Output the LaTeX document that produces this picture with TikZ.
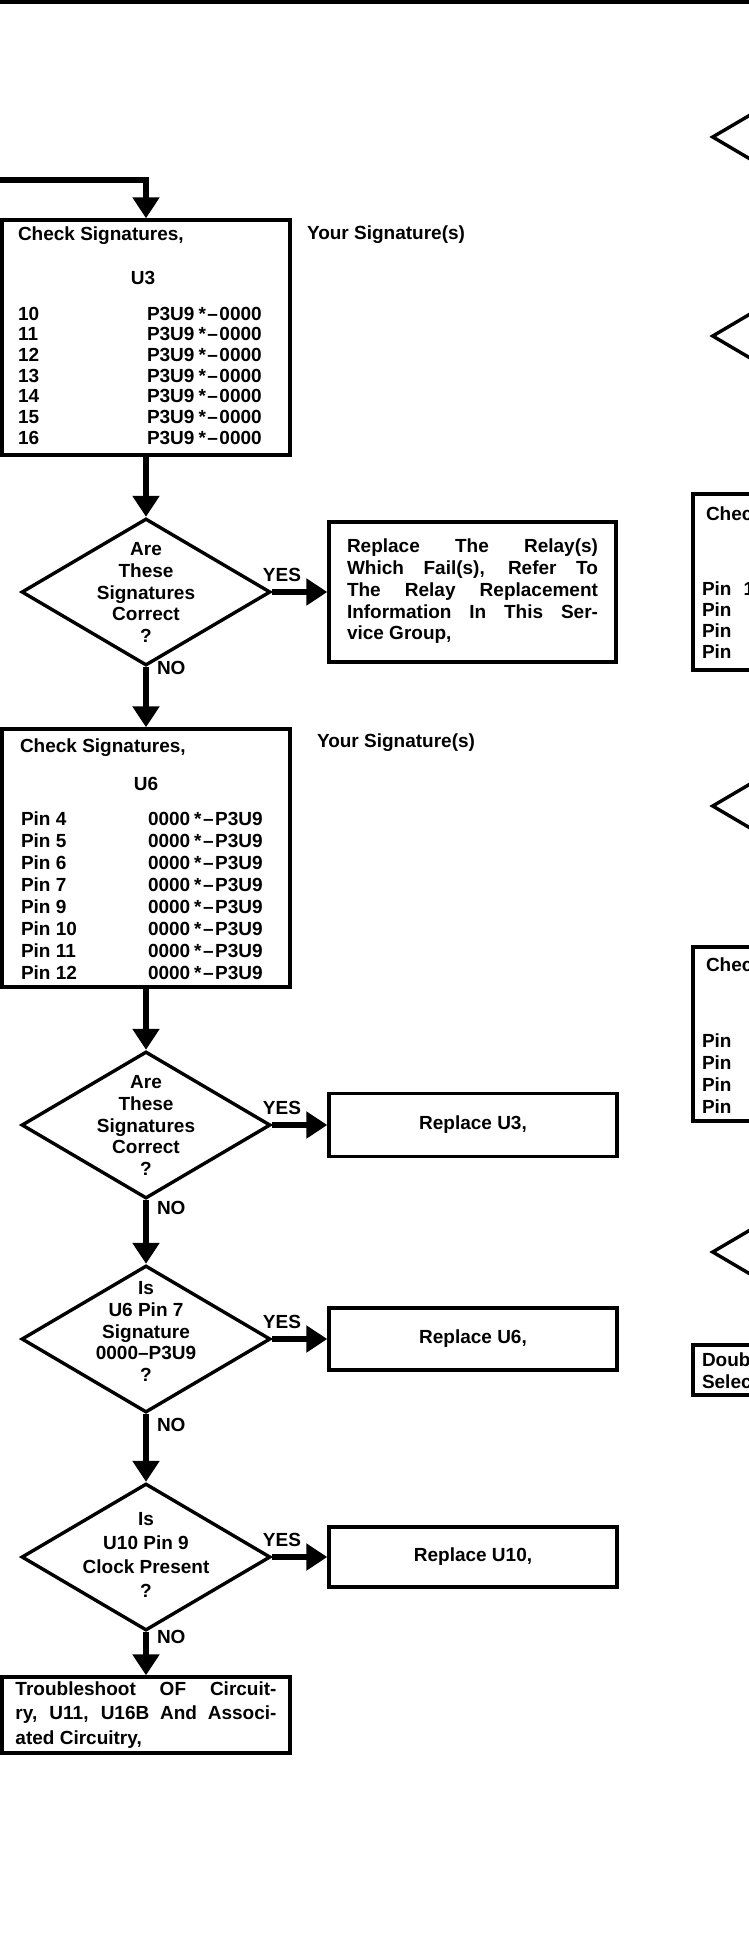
\documentclass[tikz,border=0pt]{standalone}
\usepackage{fontspec}
\setmainfont{Liberation Sans}
\usetikzlibrary{shapes.geometric,arrows.meta}
\newcommand\dtxt[3][1]{\smash{\raisebox{#2}{\renewcommand\arraystretch{#1}\begin{tabular}{@{}c@{}}#3\end{tabular}}}}
\newcommand\jl[2]{\makebox[#1][s]{#2}}
\newcommand\sigA{P3U9\hspace{4pt}*\hspace{1.5pt}--\hspace{1.5pt}0000}
\newcommand\sigB{0000\hspace{4pt}*\hspace{1.5pt}--\hspace{1.5pt}P3U9}
\begin{document}
\begin{tikzpicture}[x=1pt,y=-1pt,
  txt/.style={font=\fontsize{19}{21.7}\selectfont\bfseries, inner sep=0pt, outer sep=0pt},
  box/.style={txt, draw, line width=3.4pt, rectangle, outer sep=1.7pt},
  dia/.style={txt, draw, line width=3.4pt, diamond, minimum width=249pt, minimum height=147pt, outer sep=1.7pt},
  flow/.style={line width=6.2pt, -{Triangle[width=26pt,length=21pt]}},
  rule/.style={line width=4pt}
]
\useasboundingbox (0,0) rectangle (749,1941);
\clip (0,0) rectangle (749,1941);
\fill[white] (0,0) rectangle (749,1941);

% top rule
\coordinate (tl) at (0,2);
\coordinate (tr) at (749,2);
\draw[rule] (tl) -- (tr);

% ---------- left column ----------
\node[box, minimum width=288pt, minimum height=235pt] (b1) at (146,337.5) {};
\node[txt, anchor=base west] (b1h) at (18,240) {Check Signatures,};
\node[txt, anchor=base] (b1u) at (143,284) {U3};
\foreach \n [count=\i from 0] in {10,11,12,13,14,15,16}{
  \node[txt, anchor=base west] (b1n\i) at (18,{320+20.7*\i}) {\n};
  \node[txt, anchor=base west] (b1s\i) at (147,{320+20.7*\i}) {\sigA};
}
\node[txt, anchor=base west] (ys1) at (307,239) {Your Signature(s)};

\node[dia] (d1) at (146,592) {\dtxt{-7pt}{Are\\These\\Signatures\\Correct\\?}};

\node[box, minimum width=287pt, minimum height=140pt] (rel) at (472.5,592)
  {\begin{tabular}{@{}l@{}}\jl{251pt}{Replace The Relay(s)}\\ \jl{251pt}{Which Fail(s), Refer To}\\ \jl{251pt}{The Relay Replacement}\\ \jl{251pt}{Information In This Ser-}\\ vice Group,\end{tabular}};

\node[box, minimum width=288pt, minimum height=258pt] (b2) at (146,858) {};
\node[txt, anchor=base west] (b2h) at (20,752) {Check Signatures,};
\node[txt, anchor=base] (b2u) at (146,790) {U6};
\foreach \n [count=\i from 0] in {4,5,6,7,9,10,11,12}{
  \node[txt, anchor=base west] (b2n\i) at (21,{825+22*\i}) {Pin \n};
  \node[txt, anchor=base west] (b2s\i) at (148,{825+22*\i}) {\sigB};
}
\node[txt, anchor=base west] (ys2) at (317,747) {Your Signature(s)};

\node[dia] (d2) at (146,1125) {\dtxt{-7pt}{Are\\These\\Signatures\\Correct\\?}};
\node[box, minimum width=288pt, minimum height=63pt] (x3) at (473,1125) {Replace U3,};

\node[dia] (d3) at (146,1339) {\dtxt{1pt}{Is\\U6 Pin 7\\Signature\\0000--P3U9\\?}};
\node[box, minimum width=288pt, minimum height=62pt] (x6) at (473,1339) {Replace U6,};

\node[dia] (d4) at (146,1557) {\dtxt[1.1]{-4pt}{Is\\U10 Pin 9\\Clock Present\\?}};
\node[box, minimum width=288pt, minimum height=60pt] (x10) at (473,1557) {Replace U10,};

\node[box, minimum width=288pt, minimum height=76pt] (b3) at (146,1715)
  {\renewcommand\arraystretch{1.13}\begin{tabular}{@{}l@{}}\jl{261pt}{Troubleshoot OF Circuit-}\\ \jl{261pt}{ry, U11, U16B And Associ-}\\ ated Circuitry,\end{tabular}};

% labels
\node[txt] (y1) at (282,575) {YES};
\node[txt] (y2) at (282,1108) {YES};
\node[txt] (y3) at (282,1322) {YES};
\node[txt] (y4) at (282,1540) {YES};
\node[txt, anchor=west] (n1) at (157,668) {NO};
\node[txt, anchor=west] (n2) at (157,1208) {NO};
\node[txt, anchor=west] (n3) at (157,1425) {NO};
\node[txt, anchor=west] (n4) at (157,1637) {NO};

% connectors
\coordinate (in) at (0,180);
\draw[flow] (in) -| (b1.north);
\draw[flow] (b1.south) -- (d1.north);
\draw[flow] (d1.east) -- (rel.west);
\draw[flow] (d1.south) -- (b2.north);
\draw[flow] (b2.south) -- (d2.north);
\draw[flow] (d2.east) -- (x3.west);
\draw[flow] (d2.south) -- (d3.north);
\draw[flow] (d3.east) -- (x6.west);
\draw[flow] (d3.south) -- (d4.north);
\draw[flow] (d4.east) -- (x10.west);
\draw[flow] (d4.south) -- (b3.north);

% ---------- right column (cut off by the page edge) ----------
\node[dia] (r1) at (836.5,137) {};
\node[dia] (r2) at (836.5,336) {};
\node[box, minimum width=116pt, minimum height=176pt] (c1) at (751,582) {};
\node[txt, anchor=base west] (c1h) at (706,520) {Check Signatures,};
\node[txt, anchor=base west] (c1p0) at (702,595) {Pin\hspace{12pt}1};
\foreach \i in {1,2,3}{
  \node[txt, anchor=base west] (c1p\i) at (702,{595+21.3*\i}) {Pin};
}
\node[dia] (r3) at (836.5,806) {};
\node[box, minimum width=116pt, minimum height=174pt] (c2) at (751,1034) {};
\node[txt, anchor=base west] (c2h) at (706,971) {Check Signatures,};
\foreach \i in {0,1,2,3}{
  \node[txt, anchor=base west] (c2p\i) at (702,{1047+22.3*\i}) {Pin};
}
\node[dia] (r4) at (836.5,1252) {};
\node[box, minimum width=116pt, minimum height=50pt] (c3) at (751,1370) {};
\node[txt, anchor=base west] (c3a) at (702,1366) {Double};
\node[txt, anchor=base west] (c3b) at (702,1388) {Select};
\end{tikzpicture}
\end{document}
